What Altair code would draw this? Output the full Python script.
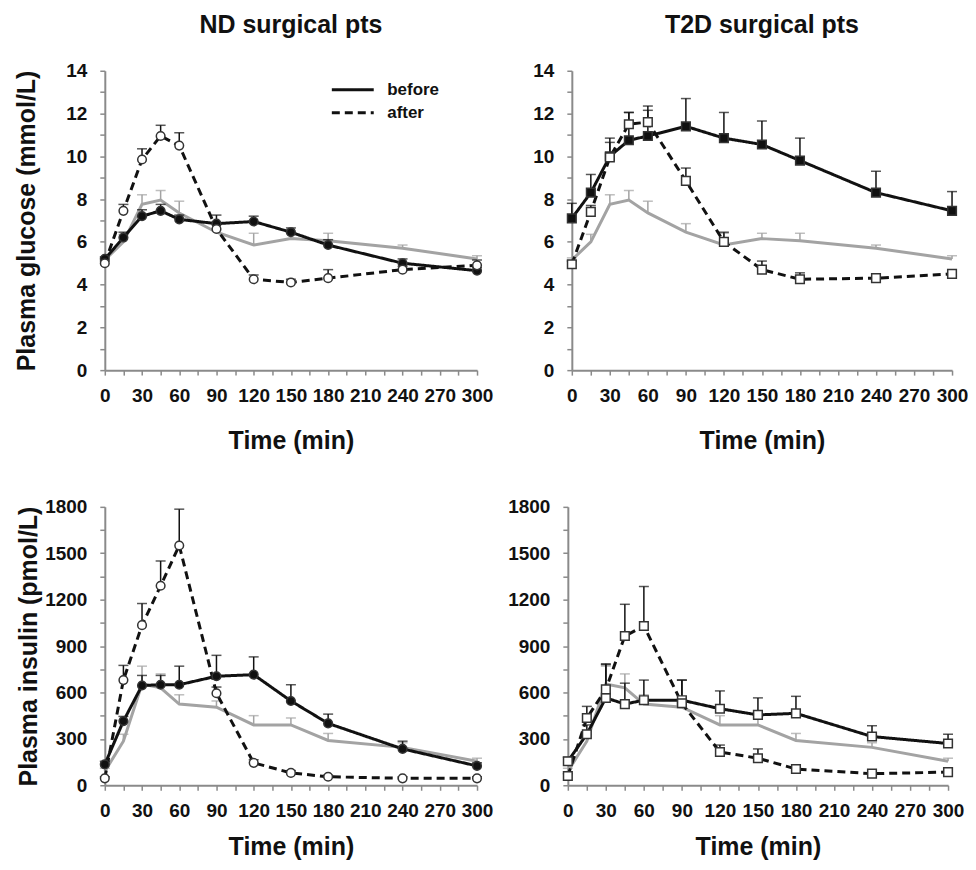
import altair as alt
import pandas as pd

FONT = "Liberation Sans"

times = [0, 15, 30, 45, 60, 90, 120, 150, 180, 240, 300]

# Glucose (mmol/L)
lean_glu = [5.15, 6.0, 7.75, 7.95, 7.35, 6.45, 5.85, 6.15, 6.05, 5.7, 5.2]
lean_glu_err = [0.1, 0.35, 0.45, 0.45, 0.55, 0.4, 0.55, 0.25, 0.35, 0.15, 0.15]
nd_glu_before = [5.2, 6.2, 7.2, 7.45, 7.05, 6.85, 6.95, 6.45, 5.85, 5.0, 4.65]
nd_glu_before_err = [0.1, 0.25, 0.3, 0.3, 0.2, 0.4, 0.25, 0.2, 0.25, 0.2, 0.15]
nd_glu_after = [5.0, 7.45, 9.85, 10.95, 10.5, 6.6, 4.25, 4.1, 4.3, 4.7, 4.9]
nd_glu_after_err = [0.1, 0.3, 0.5, 0.5, 0.6, 0.3, 0.2, 0.15, 0.4, 0.15, 0.25]
t2d_glu_before = [7.1, 8.3, 10.0, 10.75, 10.95, 11.4, 10.85, 10.55, 9.8, 8.3, 7.45]
t2d_glu_before_err = [0.7, 0.85, 0.85, 1.3, 1.4, 1.3, 1.2, 1.1, 1.05, 1.0, 0.9]
t2d_glu_after = [4.95, 7.4, 9.95, 11.5, 11.6, 8.85, 6.0, 4.7, 4.25, 4.3, 4.5]
t2d_glu_after_err = [0.15, 0.3, 0.7, 0.55, 0.55, 0.6, 0.45, 0.4, 0.3, 0.1, 0.1]

# Insulin (pmol/L)
lean_ins = [90, 285, 655, 630, 525, 505, 390, 390, 290, 245, 155]
lean_ins_err = [20, 45, 115, 90, 60, 40, 60, 45, 45, 30, 20]
nd_ins_before = [135, 415, 645, 650, 650, 705, 715, 545, 400, 235, 125]
nd_ins_before_err = [20, 30, 65, 60, 120, 135, 115, 105, 60, 50, 20]
nd_ins_after = [45, 680, 1035, 1290, 1550, 595, 145, 80, 55, 45, 45]
nd_ins_after_err = [10, 95, 140, 160, 235, 40, 20, 15, 10, 10, 10]
t2d_ins_before = [155, 330, 565, 525, 550, 550, 495, 455, 465, 315, 270]
t2d_ins_before_err = [25, 60, 220, 135, 130, 130, 115, 110, 110, 70, 60]
t2d_ins_after = [60, 435, 620, 965, 1030, 530, 215, 175, 105, 75, 85]
t2d_ins_after_err = [15, 75, 160, 205, 255, 150, 45, 60, 15, 10, 10]

series_order = ["before", "after"]
GREY = "#a3a3a3"
BLACK = "#111111"


def frame(lean, lean_e, before, before_e, after, after_e):
    rows = []
    for name, vals, errs in (("lean", lean, lean_e), ("before", before, before_e), ("after", after, after_e)):
        for t, v, e in zip(times, vals, errs):
            rows.append({"t": t, "v": v, "top": v + e, "s": name})
    return pd.DataFrame(rows)


def panel(df, ymax, ystep, ylabel_step, ytitle, width, height, shape, before_filled,
          title=None, legend=False, ytitle_pad=10, xtitle_pad=24):
    x = alt.X("t:Q", scale=alt.Scale(domain=[0, 300], nice=False, zero=False),
              axis=alt.Axis(values=list(range(0, 301, 15)),
                            labelExpr="datum.value % 30 == 0 ? datum.label : ''",
                            title="Time (min)", labelPadding=11, titlePadding=xtitle_pad,
                            labelFlush=False, labelOverlap=False))
    yvals = list(range(0, ymax + 1, ystep))
    yaxis = alt.Axis(values=yvals, format="d",
                     labelExpr=f"datum.value % {ylabel_step} == 0 ? datum.label : ''",
                     title=ytitle, titlePadding=ytitle_pad, labelPadding=13,
                     labelOverlap=False, labelFlush=False)
    yscale = alt.Scale(domain=[0, ymax], nice=False)
    y = alt.Y("v:Q", scale=yscale, axis=yaxis)
    ytop = alt.Y("top:Q", scale=yscale, axis=yaxis)

    base = alt.Chart(df)
    lean = base.transform_filter(alt.datum.s == "lean")
    ba = base.transform_filter(alt.datum.s != "lean")

    layers = [
        lean.mark_rule(color=GREY, strokeWidth=1.5).encode(x=x, y=y, y2="top:Q"),
        lean.mark_tick(color=GREY, orient="horizontal", size=10, thickness=1.5).encode(x=x, y=ytop),
        lean.mark_line(color=GREY, strokeWidth=3).encode(x=x, y=y),
        ba.mark_rule(color=BLACK, strokeWidth=1.5).encode(x=x, y=y, y2="top:Q", detail="s:N"),
        ba.mark_tick(color=BLACK, orient="horizontal", size=10, thickness=1.5).encode(x=x, y=ytop, detail="s:N"),
    ]
    if legend:
        leg = alt.Legend(orient="none", legendX=226, legendY=8, title=None,
                         symbolType="stroke", symbolSize=1764, symbolStrokeWidth=3,
                         symbolStrokeColor=BLACK, labelFont=FONT, labelFontSize=17,
                         labelFontWeight="bold", labelColor=BLACK, clipHeight=22,
                         rowPadding=1, labelOffset=12)
    else:
        leg = None
    layers.append(
        ba.mark_line(color=BLACK, strokeWidth=3).encode(
            x=x, y=y,
            strokeDash=alt.StrokeDash("s:N", scale=alt.Scale(domain=series_order, range=[[1, 0], [8, 5]]),
                                      legend=leg),
        )
    )
    before = base.transform_filter(alt.datum.s == "before")
    after = base.transform_filter(alt.datum.s == "after")
    layers.append(before.mark_point(shape=shape, size=75, filled=before_filled,
                                    fill=BLACK if before_filled else "white",
                                    stroke="#333333", strokeWidth=1.5, opacity=1).encode(x=x, y=y))
    layers.append(after.mark_point(shape=shape, size=75, filled=False,
                                   fill="white", stroke="#333333", strokeWidth=1.5,
                                   opacity=1).encode(x=x, y=y))
    ch = alt.layer(*layers).properties(width=width, height=height)
    if title:
        ch = ch.properties(title=alt.TitleParams(title, font=FONT, fontSize=25, fontWeight="bold",
                                                 color=BLACK, anchor="middle", offset=24))
    return ch


df1 = frame(lean_glu, lean_glu_err, nd_glu_before, nd_glu_before_err, nd_glu_after, nd_glu_after_err)
df2 = frame(lean_glu, lean_glu_err, t2d_glu_before, t2d_glu_before_err, t2d_glu_after, t2d_glu_after_err)
df3 = frame(lean_ins, lean_ins_err, nd_ins_before, nd_ins_before_err, nd_ins_after, nd_ins_after_err)
df4 = frame(lean_ins, lean_ins_err, t2d_ins_before, t2d_ins_before_err, t2d_ins_after, t2d_ins_after_err)

p1 = panel(df1, 14, 1, 2, "Plasma glucose (mmol/L)", 373, 300, "circle", True,
           title="ND surgical pts", legend=True, ytitle_pad=26, xtitle_pad=24)
p2 = panel(df2, 14, 1, 2, None, 381, 300, "square", True, title="T2D surgical pts", xtitle_pad=24)
p3 = panel(df3, 1800, 150, 300, "Plasma insulin (pmol/L)", 373, 279, "circle", True,
           ytitle_pad=3, xtitle_pad=14)
p4 = panel(df4, 1800, 150, 300, None, 381, 279, "square", False, xtitle_pad=14)

row1 = alt.hconcat(p1, p2, spacing=39).resolve_scale(strokeDash="independent").resolve_legend(strokeDash="independent")
row2 = alt.hconcat(p3, p4, spacing=14).resolve_scale(strokeDash="independent").resolve_legend(strokeDash="independent")

chart = alt.vconcat(row1, row2, spacing=44).resolve_scale(strokeDash="independent").resolve_legend(
    strokeDash="independent"
).properties(
    padding={"left": 6, "top": 4, "right": 0, "bottom": 0}
).configure_view(stroke=None).configure_axis(
    labelFont=FONT, labelFontSize=19, labelFontWeight="bold", labelColor=BLACK,
    titleFont=FONT, titleFontSize=25, titleFontWeight="bold", titleColor=BLACK,
    domainColor="#8a8a8a", domainWidth=2, tickColor="#8a8a8a", tickWidth=1.5, tickSize=5,
    grid=False,
)

chart.save("out.html", embed_options={"renderer": "svg", "actions": False})
